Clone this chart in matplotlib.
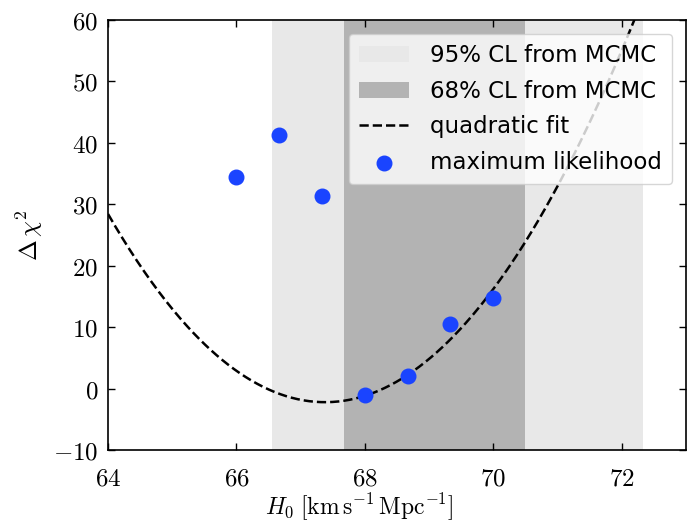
import numpy as np
import matplotlib
matplotlib.use("Agg")
import matplotlib.pyplot as plt

plt.rcParams['mathtext.fontset'] = 'cm'
plt.rcParams['axes.formatter.use_mathtext'] = True

# maximum-likelihood grid points
h0 = [66.0, 66.67, 67.33, 68.0, 68.67, 69.33, 70.0]
dchi2 = [34.5, 41.3, 31.4, -1.1, 2.1, 10.6, 14.7]

# quadratic fit: a*(H0 - x0)^2 + c
fit_a, fit_x0, fit_c = 2.68, 67.38, -2.2

# MCMC confidence intervals
cl95 = (66.56, 72.33)
cl68 = (67.67, 70.49)

fig = plt.figure(figsize=(6.97, 5.24), dpi=100)
ax = fig.add_axes([0.155, 0.141, 0.829, 0.821])

ax.axvspan(cl95[0], cl95[1], color='#e8e8e8', lw=0, label='95% CL from MCMC')
ax.axvspan(cl68[0], cl68[1], color='#b3b3b3', lw=0, label='68% CL from MCMC')

xx = np.linspace(64, 73, 400)
ax.plot(xx, fit_a * (xx - fit_x0)**2 + fit_c, 'k--', lw=1.8, label='quadratic fit')
ax.scatter(h0, dchi2, s=110, color='#1a44ff', zorder=3, label='maximum likelihood')

ax.set_xlim(64, 73)
ax.set_ylim(-10, 60)
ax.set_xticks([64, 66, 68, 70, 72])
ax.set_yticks(range(-10, 61, 10))
ax.tick_params(direction='in', top=True, right=True, length=5, width=1,
               labelsize=18, pad=7)
ax.tick_params(axis='x', pad=12)
ax.xaxis.set_major_formatter(plt.FuncFormatter(lambda v, p: r'$%d$' % v))
ax.yaxis.set_major_formatter(plt.FuncFormatter(lambda v, p: r'$%d$' % v))
for sp in ax.spines.values():
    sp.set_linewidth(1.2)

ax.set_xlabel(r'$H_0\;[\mathrm{km\,s^{-1}\,Mpc^{-1}}]$', fontsize=17,
              labelpad=1, x=0.435)
ax.set_ylabel(r'$\Delta\,\chi^2$', fontsize=18, labelpad=6)

leg = ax.legend(loc='upper right', fontsize=16.5, framealpha=0.8,
                edgecolor='#cccccc', handlelength=2.2, handletextpad=0.9,
                labelspacing=0.55, borderpad=0.45, borderaxespad=0.6)

fig.savefig('out.png', dpi=100)
